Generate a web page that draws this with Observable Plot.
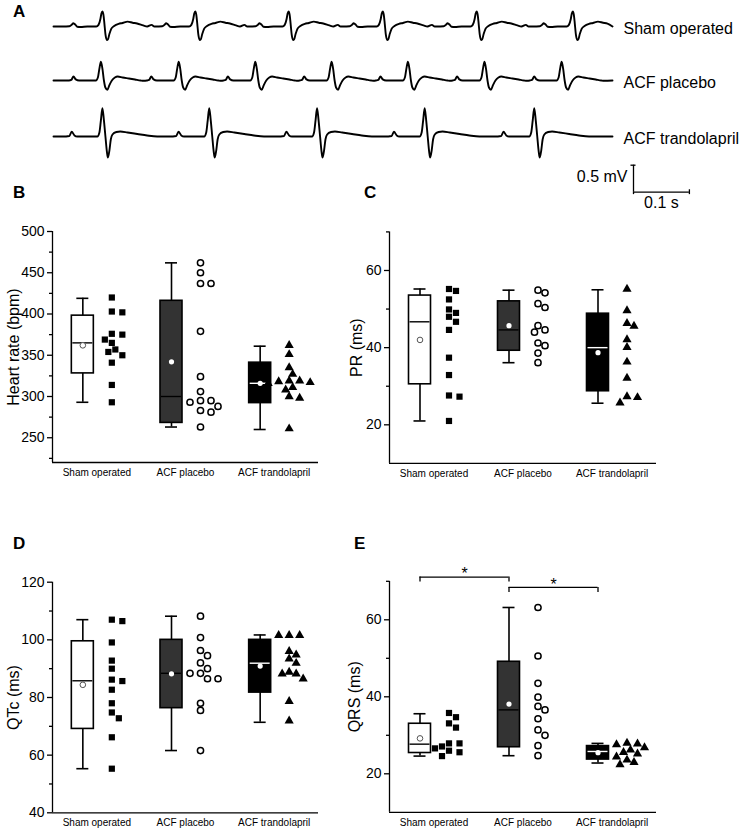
<!DOCTYPE html>
<html><head><meta charset="utf-8">
<script src="https://cdn.jsdelivr.net/npm/d3@7"></script>
<script src="https://cdn.jsdelivr.net/npm/@observablehq/plot@0.6"></script>
<style>
body{margin:0;background:#fff;}
#root{position:relative;width:750px;height:829px;overflow:hidden;font-family:"Liberation Sans",Arial,sans-serif;}
.lbl{position:absolute;font-weight:bold;font-size:17px;line-height:1;font-family:"Liberation Sans",Arial,sans-serif;}
</style></head><body><div id="root"></div>
<script>
// ---------- DATA ----------
const groups = ["Sham operated", "ACF placebo", "ACF trandolapril"];

// Panel A: ECG beat shapes [ms relative to R peak, mV] and R-peak times (ms)
const shamBeat = [[-71,0],[-59,0.005],[-55,0.03],[-52,0.06],[-48,0.03],[-45,-0.005],[-39,-0.01],[-27,0],[-11,0],[-7,0.03],[-3.6,0.14],[-1.8,0.24],[0,0.28],[1.8,0.22],[3.6,0.05],[5.4,-0.14],[8,-0.25],[9.8,-0.24],[12.5,-0.14],[16,-0.04],[21,0.01],[29,0.05],[36,0.065],[45,0.09],[54,0.07],[62,0.055],[73,0.02],[80,0],[88,0.03],[93,0]];
const placeboBeat = [[-57,0],[-53,0.01],[-49,0.074],[-45,0.02],[-39,0],[-9,0],[-5.4,0.055],[-2.7,0.22],[0,0.35],[2.7,0.22],[5.4,0],[8,-0.13],[11.6,-0.17],[15,-0.09],[19.6,0],[25,0.055],[30,0.074],[39,0.055],[50,0.037],[61,0.018],[71,0],[76,-0.005]];
const trandBeat = [[-71,0],[-59,0.01],[-55,0.09],[-50,0.02],[-45,0],[-9,0],[-5.4,0.074],[-2.7,0.3],[0,0.525],[2.7,0.3],[5.4,0],[8,-0.28],[9.8,-0.39],[12.5,-0.26],[15,-0.055],[18,0.037],[25,0.083],[32,0.093],[45,0.074],[62.5,0.046],[80,0.018],[98,0],[115,0]];
const shamBeats = [87.5, 253.6, 420.6, 589, 757, 929];
const placeboBeats = [84.8, 224, 361, 497.5, 634, 771, 909];
const trandBeats = [87.5, 278.6, 471.5, 664, 860];
const scaleMs = 100;   // 0.1 s
const scaleMv = 0.5;   // 0.5 mV

// Box stats per group: [whisker low, Q1, median, Q3, whisker high, mean]
const hrBoxes  = [[293,328,365,398,419,362],[263,268,300,416,462,342],[260,292,316,341,361,316]];
const prBoxes  = [[21,30.5,46.7,53.5,55.2,42],[36.1,39.2,44.6,52,54.9,45.7],[25.6,28.7,40,48.8,55,38.7]];
const qtBoxes  = [[55.3,69.1,85.8,99.5,107,84.4],[61.6,76.3,88.4,100,108.2,88.2],[71.4,81.7,91.9,100,101.7,90.9]];
const qrsBoxes = [[24.6,25.4,27.7,33,35.6,29.2],[24.7,26.9,36.6,49.1,63.2,38.1],[22.8,23.7,25.8,27.2,27.9,25.5]];

// Individual animals
const hrSham = [420,403,402,376,375,369,365,357,354,350,341,314,293];
const hrPlacebo = [462,450,437,437,379,324,306,295,295,293,288,283,281,263];
const hrTrand = [362,351,335,327,319,319,318,317,316,311,308,300,298,261];
const prSham = [55.2,54.7,52.5,49.9,49,48,46.7,44.6,37.4,32.9,27.6,27.3,21];
const prPlacebo = [54.9,54.2,51.4,50.4,45.7,44.6,44,41.2,40.5,38.6,36.1];
const prTrand = [55.2,49.6,46.3,45.6,42.1,40.1,36.3,32.1,27.3,27.1,25.7];
const qtSham = [107,106.5,99.1,92.8,90,86.2,85.7,82.7,78,74.8,72.8,66.2,55.3];
const qtPlacebo = [108.2,100.8,96.3,94.5,92,90,88.4,88.4,86.5,86.5,78,75.5,61.6];
const qtTrand = [101.6,101.6,101.6,96,94.8,93.4,91.9,88.8,88.2,88.2,86.5,78.7,71.9];
const qrsSham = [35.8,34.7,33.1,32,27.9,27.9,27.1,26.6,26,25.6,24.6];
const qrsPlacebo = [63.2,50.6,43.5,39.9,37.5,36.6,34.3,31.4,30,27.3,24.7];
const qrsTrand = [28,27.8,27.6,26.8,26.2,25.6,25.2,24.4,23.6,23,22.4];

// Significance brackets in panel E
const qrsBrackets = [{a:0, b:1, y:71.1, label:"*"}, {a:1, b:2, y:68.4, label:"*"}];

// Axis ticks
const hrTicks = [250,300,350,400,450,500], hrMinor = [225,275,325,375,425,475];
const prTicks = [20,40,60], prMinor = [30,50,70];
const qtTicks = [40,60,80,100,120], qtMinor = [50,70,90,110];
const qrsTicks = [20,40,60], qrsMinor = [30,50,70];

// ---------- STYLE ----------
const boxFill = ["white", "#333333", "black"];
const medianColor = ["black", "black", "white"];
const FONT = "'Liberation Sans',Arial,sans-serif";
const root = document.getElementById("root");
function svgStyle(left, top) {
  return `position:absolute;left:${left}px;top:${top}px;background:transparent;overflow:visible;max-width:none;font-family:${FONT};font-size:14px;`;
}

// ---------- PANEL A ----------
function buildTrace(beat, beats) {
  const pts = [{t: 0, v: 0}];
  for (const b of beats) for (const [dt, v] of beat) {
    const t = b + dt;
    if (t > 0 && t <= 1000) pts.push({t, v});
  }
  pts.push({t: 1000, v: 0});
  return pts;
}
const X_RANGE = [53, 612]; // 1000 ms
const MV_PX = 54;          // px per mV
function tracePlot(data, baseline, label) {
  return Plot.plot({
    width: 750, height: 215, margin: 0,
    x: {domain: [0, 1000], range: X_RANGE, axis: null},
    y: {domain: [0, 1], range: [baseline, baseline - MV_PX], axis: null},
    marks: [
      Plot.line(data, {x: "t", y: "v", curve: "monotone-x", stroke: "black", strokeWidth: 1.9}),
      Plot.text([label], {x: 1000, y: 0, text: d => d, dx: 11, dy: 2, textAnchor: "start", fontSize: 16, fill: "black"})
    ],
    style: svgStyle(0, 0)
  });
}
root.appendChild(tracePlot(buildTrace(shamBeat, shamBeats), 26, groups[0]));
root.appendChild(tracePlot(buildTrace(placeboBeat, placeboBeats), 80, groups[1]));
root.appendChild(tracePlot(buildTrace(trandBeat, trandBeats), 136, groups[2]));

// scale bar
{
  const t0 = (633 - X_RANGE[0]) / ((X_RANGE[1] - X_RANGE[0]) / 1000);
  const base = 191.7;
  const sb = Plot.plot({
    width: 750, height: 215, margin: 0,
    x: {domain: [0, 1000], range: X_RANGE, axis: null},
    y: {domain: [0, 1], range: [base, base - MV_PX], axis: null},
    marks: [
      Plot.ruleY([0], {x1: t0, x2: t0 + scaleMs, strokeWidth: 1.3}),
      Plot.ruleX([t0], {y1: 0, y2: scaleMv, strokeWidth: 1.3}),
      Plot.ruleY([scaleMv], {x1: t0 - 4.5, x2: t0 + 4.5, strokeWidth: 1.3}),
      Plot.ruleX([t0 + scaleMs], {y1: -0.045, y2: 0.045, strokeWidth: 1.3}),
      Plot.ruleX([t0], {y1: -0.045, y2: 0, strokeWidth: 1.3}),
      Plot.text([`${scaleMv} mV`], {x: t0, y: scaleMv / 2, text: d => d, dx: -6, dy: -2, textAnchor: "end", fontSize: 16, fill: "black"}),
      Plot.text([`${scaleMs / 1000} s`], {x: t0 + scaleMs / 2, y: 0, text: d => d, dy: 11, fontSize: 16, fill: "black"})
    ],
    style: svgStyle(0, 0)
  });
  root.appendChild(sb);
}

// ---------- BOX PANELS ----------
function boxPanel(cfg) {
  const {left, top, width, height, x0, x1, yTop, yBot, domain, ticks, minor, title, titleX, series, boxes, brackets = []} = cfg;
  const ppuX = (x1 - x0) / 3, ppuY = (yBot - yTop) / (domain[1] - domain[0]);
  const px = p => p / ppuX;
  const rows = boxes.map((b, i) => ({i, c: i + 0.5 + px(-14), lo: b[0], q1: b[1], med: b[2], q3: b[3], hi: b[4], mean: b[5]}));
  // simple beeswarm layout for individual points
  const pts = [];
  series.forEach((vals, i) => {
    const placed = [];
    [...vals].sort((a, b) => b - a).forEach(v => {
      const py = v * ppuY;
      let off = 0;
      for (let k = 0; k < 60; k++) {
        const cand = (k % 2 ? 1 : -1) * Math.ceil(k / 2) * 3.5;
        if (placed.every(p => Math.hypot(p.x - cand, p.y - py) >= 7.2)) { off = cand; break; }
      }
      placed.push({x: off, y: py});
      pts.push({i, v, x: i + 0.5 + px(15 + off)});
    });
  });
  const sw = 1.6;
  const marks = [
    Plot.ruleX(rows, {x: "c", y1: "lo", y2: "hi", strokeWidth: sw}),
    Plot.ruleY(rows, {y: "hi", x1: d => d.c - px(6), x2: d => d.c + px(6), strokeWidth: sw}),
    Plot.ruleY(rows, {y: "lo", x1: d => d.c - px(6), x2: d => d.c + px(6), strokeWidth: sw}),
    Plot.rect(rows, {x1: d => d.c - px(11), x2: d => d.c + px(11), y1: "q1", y2: "q3", fill: d => boxFill[d.i], stroke: "black", strokeWidth: sw}),
    Plot.ruleY(rows, {y: "med", x1: d => d.c - px(10), x2: d => d.c + px(10), stroke: d => medianColor[d.i], strokeWidth: 1.4}),
    Plot.dot(rows.filter(d => d.i === 0), {x: "c", y: "mean", r: 2.8, fill: "white", stroke: "#555", strokeWidth: 1}),
    Plot.dot(rows.filter(d => d.i > 0), {x: "c", y: "mean", r: 2.6, fill: "white"}),
    Plot.dot(pts.filter(d => d.i === 0), {x: "x", y: "v", symbol: "square", r: 3.5, fill: "black"}),
    Plot.dot(pts.filter(d => d.i === 1), {x: "x", y: "v", r: 3.1, fill: "white", stroke: "black", strokeWidth: 1.5}),
    Plot.dot(pts.filter(d => d.i === 2), {x: "x", y: "v", symbol: "triangle", r: 3.4, fill: "black"}),
    // axes
    Plot.ruleX([0], {y1: domain[0], y2: domain[1], strokeWidth: 1.3}),
    Plot.ruleY([domain[0]], {strokeWidth: 1.3}),
    Plot.ruleY(ticks, {y: d => d, x1: px(-5), x2: 0, strokeWidth: 1.3}),
    Plot.ruleY(minor, {y: d => d, x1: px(-3), x2: 0, strokeWidth: 1.3}),
    Plot.text(ticks, {x: 0, y: d => d, text: d => String(d), dx: -8, textAnchor: "end", fontSize: 14, fill: "black"}),
    Plot.text(groups, {x: (d, i) => i + 0.5, y: domain[0], text: d => d, dy: 10, fontSize: 10, fill: "black"}),
    Plot.text([title], {x: px(titleX - x0), y: (domain[0] + domain[1]) / 2, text: d => d, rotate: -90, fontSize: 16, fill: "black"})
  ];
  if (brackets.length) {
    const leg = 5 / ppuY;
    marks.push(
      Plot.ruleY(brackets, {y: "y", x1: d => rows[d.a].c, x2: d => rows[d.b].c, strokeWidth: 1.3}),
      Plot.ruleX(brackets, {x: d => rows[d.a].c, y1: d => d.y - leg, y2: "y", strokeWidth: 1.3}),
      Plot.ruleX(brackets, {x: d => rows[d.b].c, y1: d => d.y - leg, y2: "y", strokeWidth: 1.3}),
      Plot.text(brackets, {x: d => (rows[d.a].c + rows[d.b].c) / 2, y: "y", text: "label", dy: -3, fontSize: 16, fill: "black"})
    );
  }
  return Plot.plot({
    width, height,
    marginLeft: x0 - left, marginRight: left + width - x1,
    marginTop: yTop - top, marginBottom: top + height - yBot,
    x: {domain: [0, 3], axis: null},
    y: {domain, axis: null},
    marks,
    style: svgStyle(left, top)
  });
}

root.appendChild(boxPanel({left: 0, top: 180, width: 330, height: 300, x0: 52, x1: 318, yTop: 231, yBot: 462,
  domain: [220, 500], ticks: hrTicks, minor: hrMinor, title: "Heart rate (bpm)", titleX: 13,
  series: [hrSham, hrPlacebo, hrTrand], boxes: hrBoxes}));
root.appendChild(boxPanel({left: 340, top: 180, width: 330, height: 300, x0: 389, x1: 656, yTop: 231.4, yBot: 462.9,
  domain: [10, 70], ticks: prTicks, minor: prMinor, title: "PR (ms)", titleX: 356,
  series: [prSham, prPlacebo, prTrand], boxes: prBoxes}));
root.appendChild(boxPanel({left: 0, top: 520, width: 330, height: 309, x0: 52, x1: 318, yTop: 581.7, yBot: 812.3,
  domain: [40, 120], ticks: qtTicks, minor: qtMinor, title: "QTc (ms)", titleX: 13,
  series: [qtSham, qtPlacebo, qtTrand], boxes: qtBoxes}));
root.appendChild(boxPanel({left: 340, top: 520, width: 330, height: 309, x0: 389, x1: 656, yTop: 580.8, yBot: 811.8,
  domain: [10, 70], ticks: qrsTicks, minor: qrsMinor, title: "QRS (ms)", titleX: 354,
  series: [qrsSham, qrsPlacebo, qrsTrand], boxes: qrsBoxes, brackets: qrsBrackets}));

// panel letters
[["A", 13, 2.5], ["B", 13, 183.7], ["C", 364, 183.7], ["D", 13, 534.7], ["E", 354, 534.7]].forEach(([t, x, y]) => {
  const d = document.createElement("div");
  d.className = "lbl"; d.textContent = t;
  d.style.left = x + "px"; d.style.top = y + "px";
  root.appendChild(d);
});
</script></body></html>
